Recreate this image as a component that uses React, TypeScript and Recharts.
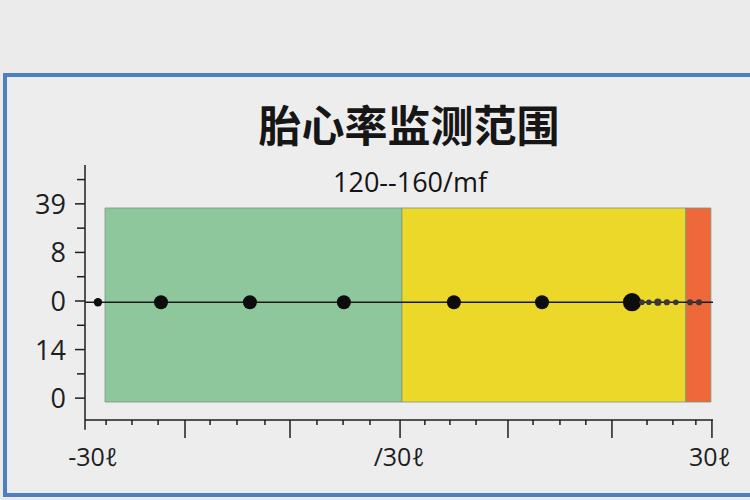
import React from 'react';
import { ComposedChart, XAxis, YAxis, Scatter, ReferenceArea, ReferenceLine } from 'recharts';

const titleText = '胎心率监测范围';
const subtitleText = '120--160/mf';

// zones (x from, x to) and vertical extent
const zoneStarts = [0.96, 12.21, 22.97];
const zoneEnds = [12.21, 22.97, 23.92];
const zoneColors = ['#8ec79b', '#ecd828', '#ee683a'];
const zoneBottom = 0.84;
const zoneTop = 8.83;

// baseline series
const baselineValue = 4.95;
const dotX = [0.69, 3.08, 6.45, 10.01, 14.18, 17.52, 20.93, 21.31, 21.57, 21.91, 22.25, 22.59, 23.13, 23.47];
const dotWeight = [2, 3, 3, 3, 3, 3, 4, 1, 1, 1.3, 1.1, 1, 1.1, 1.1];

// axis ticks
const xTicksMajor = [3.99, 7.97, 12.14, 16.23, 20.17, 23.96];
const xTicksMinor = [1, 1.98, 2.97, 4.94, 5.96, 7.02, 8.99, 9.98, 11, 13.08, 14.03, 15.02, 17.18, 18.2, 19.18, 21.5, 22.48, 23.35];
const xLabelValues = [0.5, 12.1, 23.88];
const xLabelTexts = ['-30ℓ', '/30ℓ', '30ℓ'];

const yTicks = [1, 2, 3, 4, 5, 6, 7, 8, 9, 10];
const yLabelValues = [1, 3, 5, 7, 9];
const yLabelTexts = ['0', '14', '0', '8', '39'];

const dots = dotX.map((x, i) => ({ x, y: baselineValue, w: dotWeight[i] }));
const xTicksAll = Array.from(new Set([...xTicksMajor, ...xTicksMinor, ...xLabelValues])).sort((a, b) => a - b);

const INK = '#1e1e1e';
const FONT = '"Open Sans", "DejaVu Sans", sans-serif';

const XTick = (props: any) => {
  const { x, y, payload } = props;
  const v = payload.value;
  const major = xTicksMajor.includes(v);
  const minor = xTicksMinor.includes(v);
  const li = xLabelValues.indexOf(v);
  return (
    <g>
      {(major || minor) && (
        <line x1={x} x2={x} y1={y} y2={y + (major ? 18 : 5)} stroke={INK} strokeWidth={1.5} />
      )}
      {li >= 0 && (
        <text x={x} y={y + 46} textAnchor="middle" fontSize={25} fill={INK} fontFamily={FONT}>
          {xLabelTexts[li]}
        </text>
      )}
    </g>
  );
};

const YTick = (props: any) => {
  const { x, y, payload } = props;
  const v = payload.value;
  const li = yLabelValues.indexOf(v);
  const major = li >= 0;
  return (
    <g>
      <line x1={x} x2={x - (major ? 10 : 8)} y1={y} y2={y} stroke={INK} strokeWidth={1.5} />
      {major && (
        <text x={x - 19} y={y + 10} textAnchor="end" fontSize={27} fill={INK} fontFamily={FONT}>
          {yLabelTexts[li]}
        </text>
      )}
    </g>
  );
};

const DotShape = (props: any) => {
  const { cx, cy, payload } = props;
  const w = payload.w;
  const r = w >= 2 ? w * 2.1 + (w >= 3 ? 0.7 : 0) : w * 2.8;
  const fill = w >= 2 ? '#0d0d0d' : '#3c3636';
  return <circle cx={cx} cy={cy} r={r} fill={fill} />;
};

export default function App() {
  return (
    <div style={{ position: 'absolute', left: 0, top: 0, width: 750, height: 500, background: '#ebebeb', overflow: 'hidden' }}>
      <div
        style={{
          position: 'absolute',
          left: 3,
          top: 73,
          width: 800,
          height: 424,
          borderTop: '4px solid #4d7fc1',
          borderLeft: '4px solid #4d7fc1',
          borderBottom: '4px solid #4d7fc1',
          background: '#ededed',
          boxSizing: 'border-box',
        }}
      />
      <div style={{ position: 'absolute', left: 0, top: 0 }}>
        <ComposedChart width={750} height={500} margin={{ top: 165, right: 37, bottom: 0, left: 25 }}>
          <XAxis
            type="number"
            dataKey="x"
            domain={[0.2, 24]}
            ticks={xTicksAll}
            interval={0}
            tickSize={0}
            tickMargin={0}
            tickLine={false}
            tick={<XTick />}
            axisLine={{ stroke: INK, strokeWidth: 1.5 }}
            height={80}
            allowDataOverflow
          />
          <YAxis
            type="number"
            dataKey="y"
            domain={[0.1, 10.6]}
            ticks={yTicks}
            interval={0}
            tickSize={0}
            tickMargin={0}
            tickLine={false}
            tick={<YTick />}
            axisLine={{ stroke: INK, strokeWidth: 1.5 }}
            width={60}
            allowDataOverflow
          />
          {zoneStarts.map((s, i) => (
            <ReferenceArea
              key={i}
              x1={s}
              x2={zoneEnds[i]}
              y1={zoneBottom}
              y2={zoneTop}
              fill={zoneColors[i]}
              fillOpacity={1}
              stroke="#7d957f"
              strokeWidth={1}
              strokeOpacity={0.8}
            />
          ))}
          <ReferenceLine
            segment={[{ x: 0.2, y: 0.1 }, { x: 0.2, y: -0.3 }]}
            stroke={INK}
            strokeWidth={1.5}
            ifOverflow="visible"
          />
          <ReferenceLine y={baselineValue} stroke="#1a1a1a" strokeWidth={1.6} />
          <Scatter data={dots} shape={<DotShape />} isAnimationActive={false} />
        </ComposedChart>
      </div>
      <svg width={750} height={500} style={{ position: 'absolute', left: 0, top: 0, pointerEvents: 'none' }}>
        <text
          x={409}
          y={142}
          textAnchor="middle"
          fontSize={43}
          fontWeight={700}
          fill="#161616"
          fontFamily='"Noto Sans CJK SC", sans-serif'
        >
          {titleText}
        </text>
        <text x={410} y={192} textAnchor="middle" fontSize={27} fill="#141414" fontFamily={FONT}>
          {subtitleText}
        </text>
      </svg>
    </div>
  );
}
